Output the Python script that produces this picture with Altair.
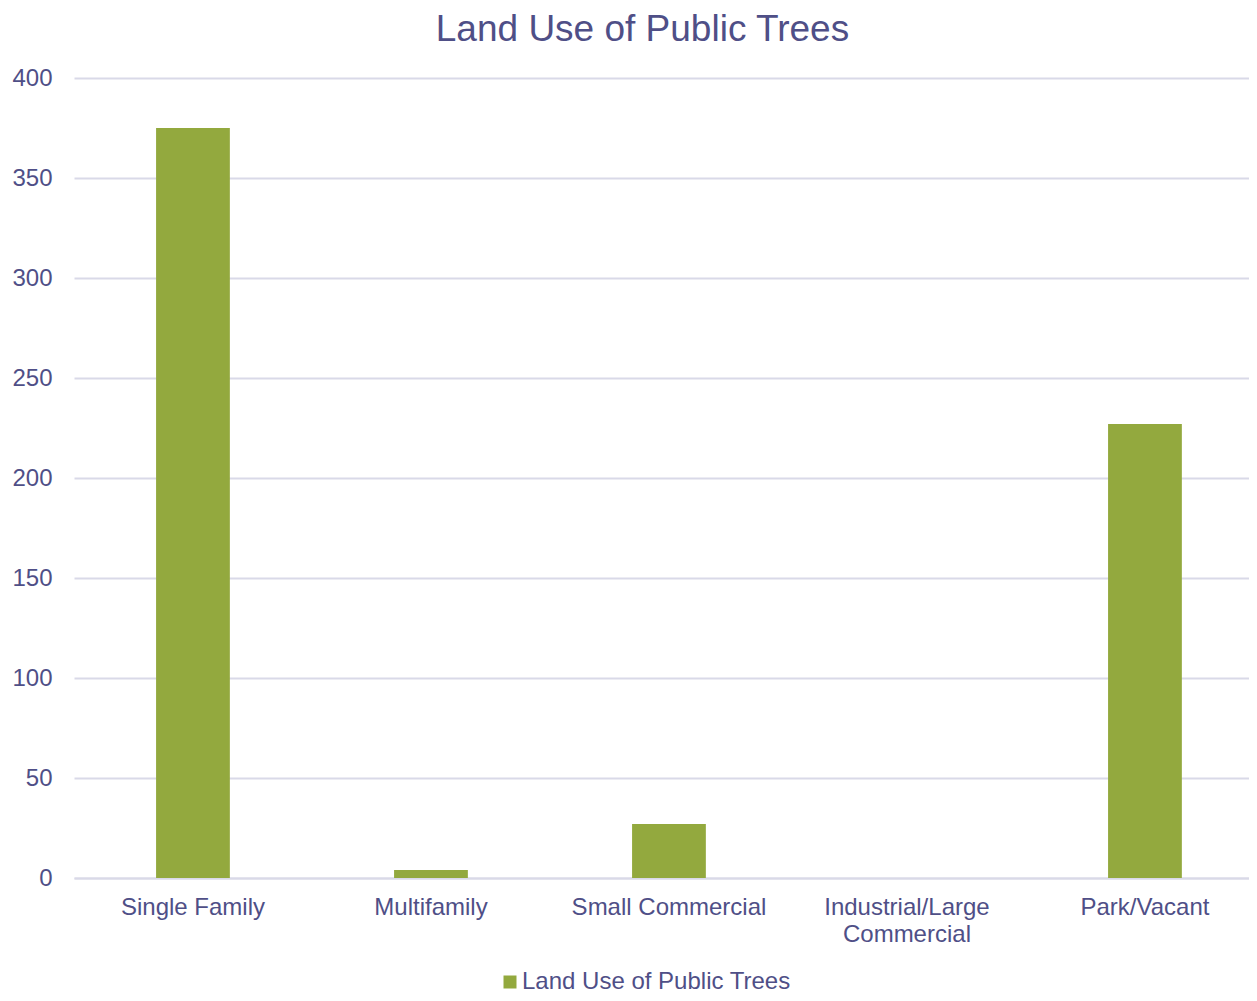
import altair as alt
import pandas as pd

categories = ["Single Family", "Multifamily", "Small Commercial",
              "Industrial/Large Commercial", "Park/Vacant"]
values = [375, 4, 27, 0, 227]
series_name = "Land Use of Public Trees"
y_ticks = [0, 50, 100, 150, 200, 250, 300, 350, 400]

TEXT = "#4F4F87"
GRID = "#D9D9E8"
BAR = "#93A93E"
FONT = "Liberation Sans"

df = pd.DataFrame({"category": categories, "value": values,
                   "series": [series_name] * len(categories)})

chart = alt.Chart(df).mark_bar().encode(
    x=alt.X("category:N", sort=categories,
            scale=alt.Scale(paddingInner=0.69, paddingOuter=0.3135, align=0.55),
            axis=alt.Axis(title=None, labelAngle=0, labelFontSize=24, labelColor=TEXT,
                          labelFont=FONT, labelPadding=17, ticks=False, domain=True,
                          domainColor=GRID, domainWidth=2, labelLineHeight=27,
                          labelLimit=0,
                          labelExpr="datum.label == 'Industrial/Large Commercial' ? ['Industrial/Large', 'Commercial'] : datum.label")),
    y=alt.Y("value:Q", scale=alt.Scale(domain=[0, 400]),
            axis=alt.Axis(title=None, values=y_ticks, labelFontSize=24, labelColor=TEXT,
                          labelFont=FONT, labelPadding=22, ticks=False, domain=False,
                          grid=True, gridColor=GRID, gridWidth=2)),
    color=alt.Color("series:N", scale=alt.Scale(range=[BAR]),
                    legend=alt.Legend(title=None, orient="none", legendX=424, legendY=892,
                                      direction="horizontal", symbolType="square",
                                      symbolSize=169, symbolStrokeWidth=0,
                                      labelFontSize=24, labelColor=TEXT, labelFont=FONT,
                                      labelOffset=0, labelLimit=0, padding=0)),
).properties(
    width=1175, height=800,
    autosize=alt.AutoSizeParams(type="none"),
    padding={"left": 66, "top": 70, "right": 0, "bottom": 115},
    title=alt.TitleParams(series_name, fontSize=37, font=FONT, fontWeight="normal",
                          color=TEXT, anchor="middle", dx=-19, offset=17),
).configure_view(stroke=None)

chart.save("out.html", embed_options={"renderer": "svg", "actions": False})
